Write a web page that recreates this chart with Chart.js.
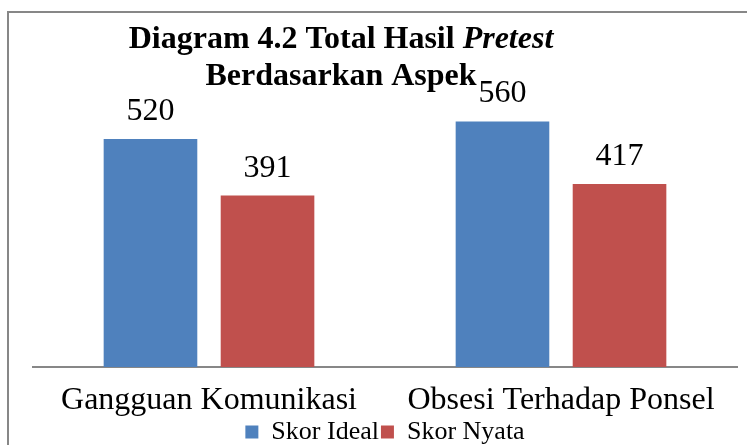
<!DOCTYPE html>
<html>
<head>
<meta charset="utf-8">
<script src="https://cdn.jsdelivr.net/npm/chart.js@4"></script>
<style>
    html, body { margin: 0; padding: 0; background: #fff; overflow: hidden; }
    #wrap { position: relative; width: 747px; height: 445px; }
    #frame { position: absolute; left: 7px; top: 11px; width: 800px; height: 500px;
             border: 2px solid #878787; pointer-events: none; }
</style>
</head>
<body>
<div id="wrap">
    <canvas id="chart" width="747" height="445"></canvas>
    <div id="frame"></div>
</div>
<script>
// Data
const categories = ['Gangguan Komunikasi', 'Obsesi Terhadap Ponsel'];
const skorIdeal = [520, 560];
const skorNyata = [391, 417];
const seriesNames = ['Skor Ideal', 'Skor Nyata'];

const SERIF = "'Liberation Serif', 'Times New Roman', serif";

// Title with an italic word, drawn in two lines
const titlePlugin = {
    id: 'mixedTitle',
    afterDraw(chart) {
        const ctx = chart.ctx;
        const cx = 341;
        ctx.save();
        ctx.fillStyle = '#000';
        ctx.textBaseline = 'alphabetic';
        const partA = 'Diagram 4.2 Total Hasil ';
        const partB = 'Pretest';
        ctx.font = 'bold 32px ' + SERIF;
        const wA = ctx.measureText(partA).width;
        ctx.font = 'italic bold 32px ' + SERIF;
        const wB = ctx.measureText(partB).width;
        let x = cx - (wA + wB) / 2;
        ctx.textAlign = 'left';
        ctx.font = 'bold 32px ' + SERIF;
        ctx.fillText(partA, x, 48);
        ctx.font = 'italic bold 32px ' + SERIF;
        ctx.fillText(partB, x + wA, 48);
        ctx.font = 'bold 32px ' + SERIF;
        ctx.textAlign = 'center';
        ctx.fillText('Berdasarkan Aspek', cx, 85);
        ctx.restore();
    }
};

// Value labels above each bar
const valueLabels = {
    id: 'valueLabels',
    afterDatasetsDraw(chart) {
        const ctx = chart.ctx;
        ctx.save();
        ctx.font = '32px ' + SERIF;
        ctx.fillStyle = '#000';
        ctx.textAlign = 'center';
        ctx.textBaseline = 'alphabetic';
        chart.data.datasets.forEach((ds, i) => {
            chart.getDatasetMeta(i).data.forEach((bar, j) => {
                ctx.fillText(ds.data[j], bar.x, bar.y - 19);
            });
        });
        ctx.restore();
    }
};

new Chart(document.getElementById('chart'), {
    type: 'bar',
    data: {
        labels: categories,
        datasets: [{
            label: seriesNames[0],
            data: skorIdeal,
            backgroundColor: '#4F81BD',
            categoryPercentage: 0.665,
            barPercentage: 0.8
        }, {
            label: seriesNames[1],
            data: skorNyata,
            backgroundColor: '#C0504D',
            categoryPercentage: 0.665,
            barPercentage: 0.8
        }]
    },
    options: {
        responsive: false,
        animation: false,
        layout: {
            padding: { left: 33, right: 10, top: 60, bottom: -10 }
        },
        plugins: {
            legend: {
                position: 'bottom',
                labels: {
                    color: '#000',
                    font: { family: SERIF, size: 26 },
                    boxWidth: 13,
                    boxHeight: 13,
                    padding: 2
                }
            },
            tooltip: { enabled: false }
        },
        scales: {
            x: {
                grid: { display: false, drawTicks: false },
                border: { display: true, color: '#878787', width: 2 },
                ticks: {
                    color: '#000',
                    font: { family: SERIF, size: 32, lineHeight: 1 },
                    padding: 18,
                    maxRotation: 0
                },
                afterFit(scale) {
                    scale.height = 50;
                }
            },
            y: {
                display: false,
                min: 0,
                max: 700
            }
        }
    },
    plugins: [titlePlugin, valueLabels]
});
</script>
</body>
</html>
